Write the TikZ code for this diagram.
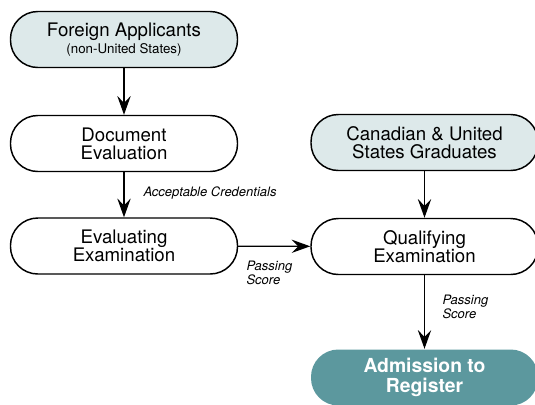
\documentclass[tikz,border=0pt]{standalone}
\usepackage{fontspec}
\setmainfont{TeX Gyre Heros}
\usetikzlibrary{arrows.meta}

\definecolor{paleteal}{RGB}{221,233,234}
\definecolor{darkteal}{RGB}{92,152,158}

\tikzset{every picture/.style={line width=0.75pt}}
\tikzset{
  pill/.style={draw, line width=1.1pt, rounded corners=20.5pt, minimum width=170.25pt,
    minimum height=42pt, inner sep=0pt, align=center, font=\fontsize{14}{13.5}\selectfont},
  startpill/.style={pill, fill=paleteal},
  endpill/.style={pill, draw=none, fill=darkteal, text=white, font=\fontsize{14.5}{15}\bfseries},
  flow/.style={line width=1pt, -{Stealth[length=14pt,width=10pt,inset=5pt]}},
  note/.style={inner sep=0pt, align=left, font=\fontsize{9.75}{9.25}\itshape}
}

\begin{document}
\begin{tikzpicture}[x=0.75pt,y=0.75pt,yscale=-1,xscale=1]
\useasboundingbox (0,0) rectangle (535,404);

%Shape: Rounded Rect
\node [startpill] (foreign) at (124,39.5) {Foreign Applicants\\[-1pt]{\fontsize{10}{10}\selectfont (non-United States)}};
%Shape: Rounded Rect
\node [pill] (docEval) at (124,143.5) {Document\\Evaluation};
%Shape: Rounded Rect
\node [pill] (evalExam) at (124,246) {Evaluating\\Examination};
%Shape: Rounded Rect
\node [startpill] (canadian) at (424.5,142.5) {Canadian \& United\\States Graduates};
%Shape: Rounded Rect
\node [pill] (qualExam) at (424.5,246.5) {Qualifying\\Examination};
%Shape: Rounded Rect
\node [endpill] (admission) at (424.5,377.5) {Admission to\\Register};

%Straight Lines
\draw [flow] (foreign) -- (docEval);
\draw [flow] (docEval) -- (evalExam);
\draw [flow] (evalExam) -- (qualExam);
\draw [flow] (canadian) -- (qualExam);
\draw [flow] (qualExam) -- (admission);

% Text Node
\node [note, anchor=west] (credNote) at (143,193) {Acceptable Credentials};
% Text Node
\node [note, anchor=west] (passNoteA) at (246,273) {Passing\\Score};
% Text Node
\node [note, anchor=west] (passNoteB) at (442,306.5) {Passing\\Score};

\end{tikzpicture}
\end{document}
